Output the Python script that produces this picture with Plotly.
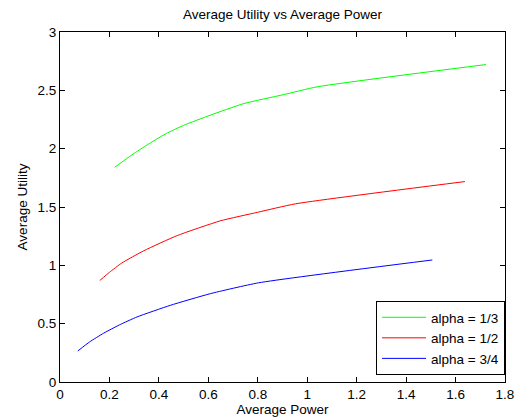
import plotly.graph_objects as go

# Data
power_a13 = [0.221, 0.26, 0.30, 0.366, 0.43, 0.50, 0.608, 0.743, 0.904, 1.04, 1.723]
util_a13 = [1.84, 1.90, 1.96, 2.05, 2.13, 2.20, 2.287, 2.386, 2.463, 2.53, 2.721]

power_a12 = [0.161, 0.20, 0.25, 0.339, 0.474, 0.648, 0.80, 0.952, 1.638]
util_a12 = [0.87, 0.94, 1.02, 1.125, 1.255, 1.381, 1.455, 1.527, 1.718]

power_a34 = [0.072, 0.12, 0.177, 0.24, 0.312, 0.446, 0.608, 0.803, 1.506]
util_a34 = [0.266, 0.344, 0.419, 0.489, 0.558, 0.657, 0.757, 0.85, 1.046]

names = ["alpha = 1/3", "alpha = 1/2", "alpha = 3/4"]
colors = ["#00ff00", "#ff0000", "#0000ff"]

x_ticks = [0, 0.2, 0.4, 0.6, 0.8, 1, 1.2, 1.4, 1.6, 1.8]
x_labels = ["0", "0.2", "0.4", "0.6", "0.8", "1", "1.2", "1.4", "1.6", "1.8"]
y_ticks = [0, 0.5, 1, 1.5, 2, 2.5, 3]
y_labels = ["0", "0.5", "1", "1.5", "2", "2.5", "3"]

fig = go.Figure()
for xs, ys, n, c in zip([power_a13, power_a12, power_a34],
                        [util_a13, util_a12, util_a34], names, colors):
    fig.add_trace(go.Scatter(x=xs, y=ys, mode="lines", name=n,
                             line=dict(color=c, width=1, shape="spline", smoothing=0.5)))

FS = 13.5
font = dict(family="Liberation Sans, Arial, sans-serif", size=FS, color="black")
axis_common = dict(showline=True, linecolor="black", linewidth=1, mirror="ticks",
                   ticks="inside", ticklen=5, tickcolor="black", showgrid=False,
                   zeroline=False, tickfont=font, automargin=False)

# page body has an 8px default margin, so the figure is sized to fit the window
W, H = 522, 411
fig.update_layout(
    width=W, height=H,
    margin=dict(l=52, r=25, t=24, b=37),
    paper_bgcolor="white", plot_bgcolor="white",
    font=font,
    title=dict(text="Average Utility vs Average Power", x=0.5, xanchor="center",
               xref="paper", y=1 - 6 / H, yanchor="middle", yref="container",
               font=dict(size=FS), automargin=False),
    xaxis=dict(range=[0, 1.8], tickvals=x_ticks, ticktext=x_labels,
               title=dict(text="Average Power", standoff=2, font=dict(size=FS)),
               **axis_common),
    yaxis=dict(range=[0, 3], tickvals=y_ticks, ticktext=y_labels,
               title=dict(text="Average Utility", standoff=6, font=dict(size=FS)),
               **axis_common),
    legend=dict(x=1.0, xanchor="right", y=0.02, yanchor="bottom",
                bgcolor="white", bordercolor="black", borderwidth=1,
                font=dict(size=FS), tracegroupgap=0, itemwidth=44),
    showlegend=True,
)

fig.write_html("out.html")
